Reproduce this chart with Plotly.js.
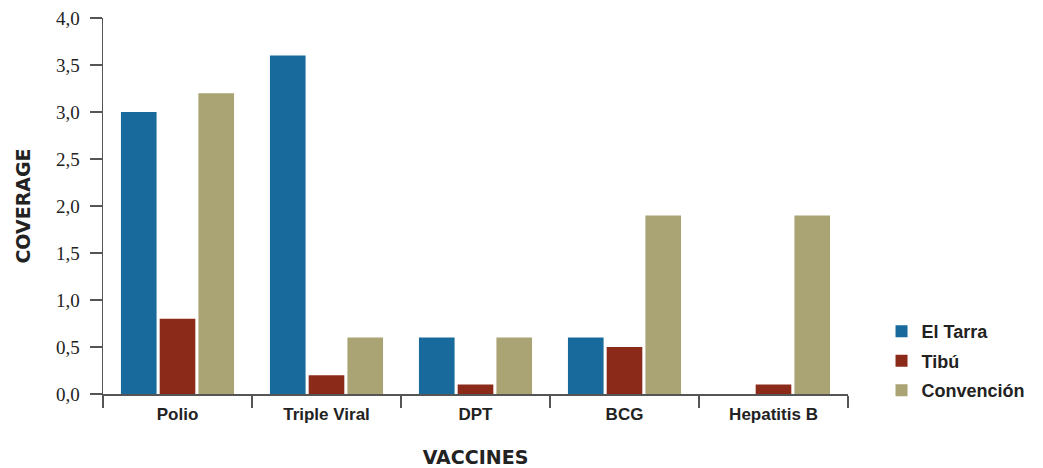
<!DOCTYPE html>
<html>
<head>
<meta charset="utf-8">
<script src="https://cdn.plot.ly/plotly-3.0.1.min.js"></script>
<style>html,body{margin:0;padding:0;background:#fff;}#chart{width:1043px;height:468px;}</style>
</head>
<body>
<div id="chart"></div>
<script>
const categories = ["Polio", "Triple Viral", "DPT", "BCG", "Hepatitis B"];
const elTarra = [3.0, 3.6, 0.6, 0.6, 0.0];
const tibu = [0.8, 0.2, 0.1, 0.5, 0.1];
const convencion = [3.2, 0.6, 0.6, 1.9, 1.9];
const seriesNames = ["El Tarra", "Tibú", "Convención"];
const yTickVals = [0, 0.5, 1, 1.5, 2, 2.5, 3, 3.5, 4];
const yTickText = ["0,0", "0,5", "1,0", "1,5", "2,0", "2,5", "3,0", "3,5", "4,0"];

const colors = ["#176a9b", "#8c2a1a", "#aaa373"];
const data = [elTarra, tibu, convencion].map((v, i) => ({
  type: "bar", x: categories, y: v, name: seriesNames[i],
  legendgroup: "g" + i,
  marker: {color: colors[i]}
}));

const layout = {
  width: 1043, height: 468,
  margin: {l: 103, r: 195, t: 18, b: 74},
  paper_bgcolor: "#fff", plot_bgcolor: "#fff",
  barmode: "group", bargap: 0.22, bargroupgap: 0.08,
  showlegend: true,
  legend: {x: 1.045, y: 0.215, xanchor: "left", yanchor: "top",
    font: {family: "Liberation Sans, Arial, sans-serif", size: 18, color: "#222", weight: "bold"},
    itemwidth: 30, tracegroupgap: 3},
  xaxis: {
    type: "category", tickson: "boundaries", ticks: "outside", ticklen: 12,
    tickcolor: "#555", tickwidth: 1.5, showline: true, linecolor: "#555", linewidth: 1.5,
    showgrid: false, zeroline: false, ticklabelstandoff: 4,
    tickfont: {family: "Liberation Sans Narrow, Liberation Sans, sans-serif", size: 17, color: "#222", weight: "bold"},
    title: {text: "<b>VACCINES</b>", font: {family: "DejaVu Sans, sans-serif", size: 19, color: "#222"}, standoff: 28}
  },
  yaxis: {
    range: [0, 4], tickvals: yTickVals, ticktext: yTickText,
    ticks: "outside", ticklen: 12, tickcolor: "#555", tickwidth: 1.5,
    showline: true, linecolor: "#555", linewidth: 1.5, showgrid: false, zeroline: false,
    ticklabelstandoff: 6,
    tickfont: {family: "Liberation Serif, DejaVu Serif, serif", size: 19, color: "#222"},
    title: {text: "<b>COVERAGE</b>", font: {family: "DejaVu Sans, sans-serif", size: 19, color: "#222"}, standoff: 20}
  }
};
Plotly.newPlot("chart", data, layout, {displayModeBar: false, staticPlot: true});
</script>
</body>
</html>
